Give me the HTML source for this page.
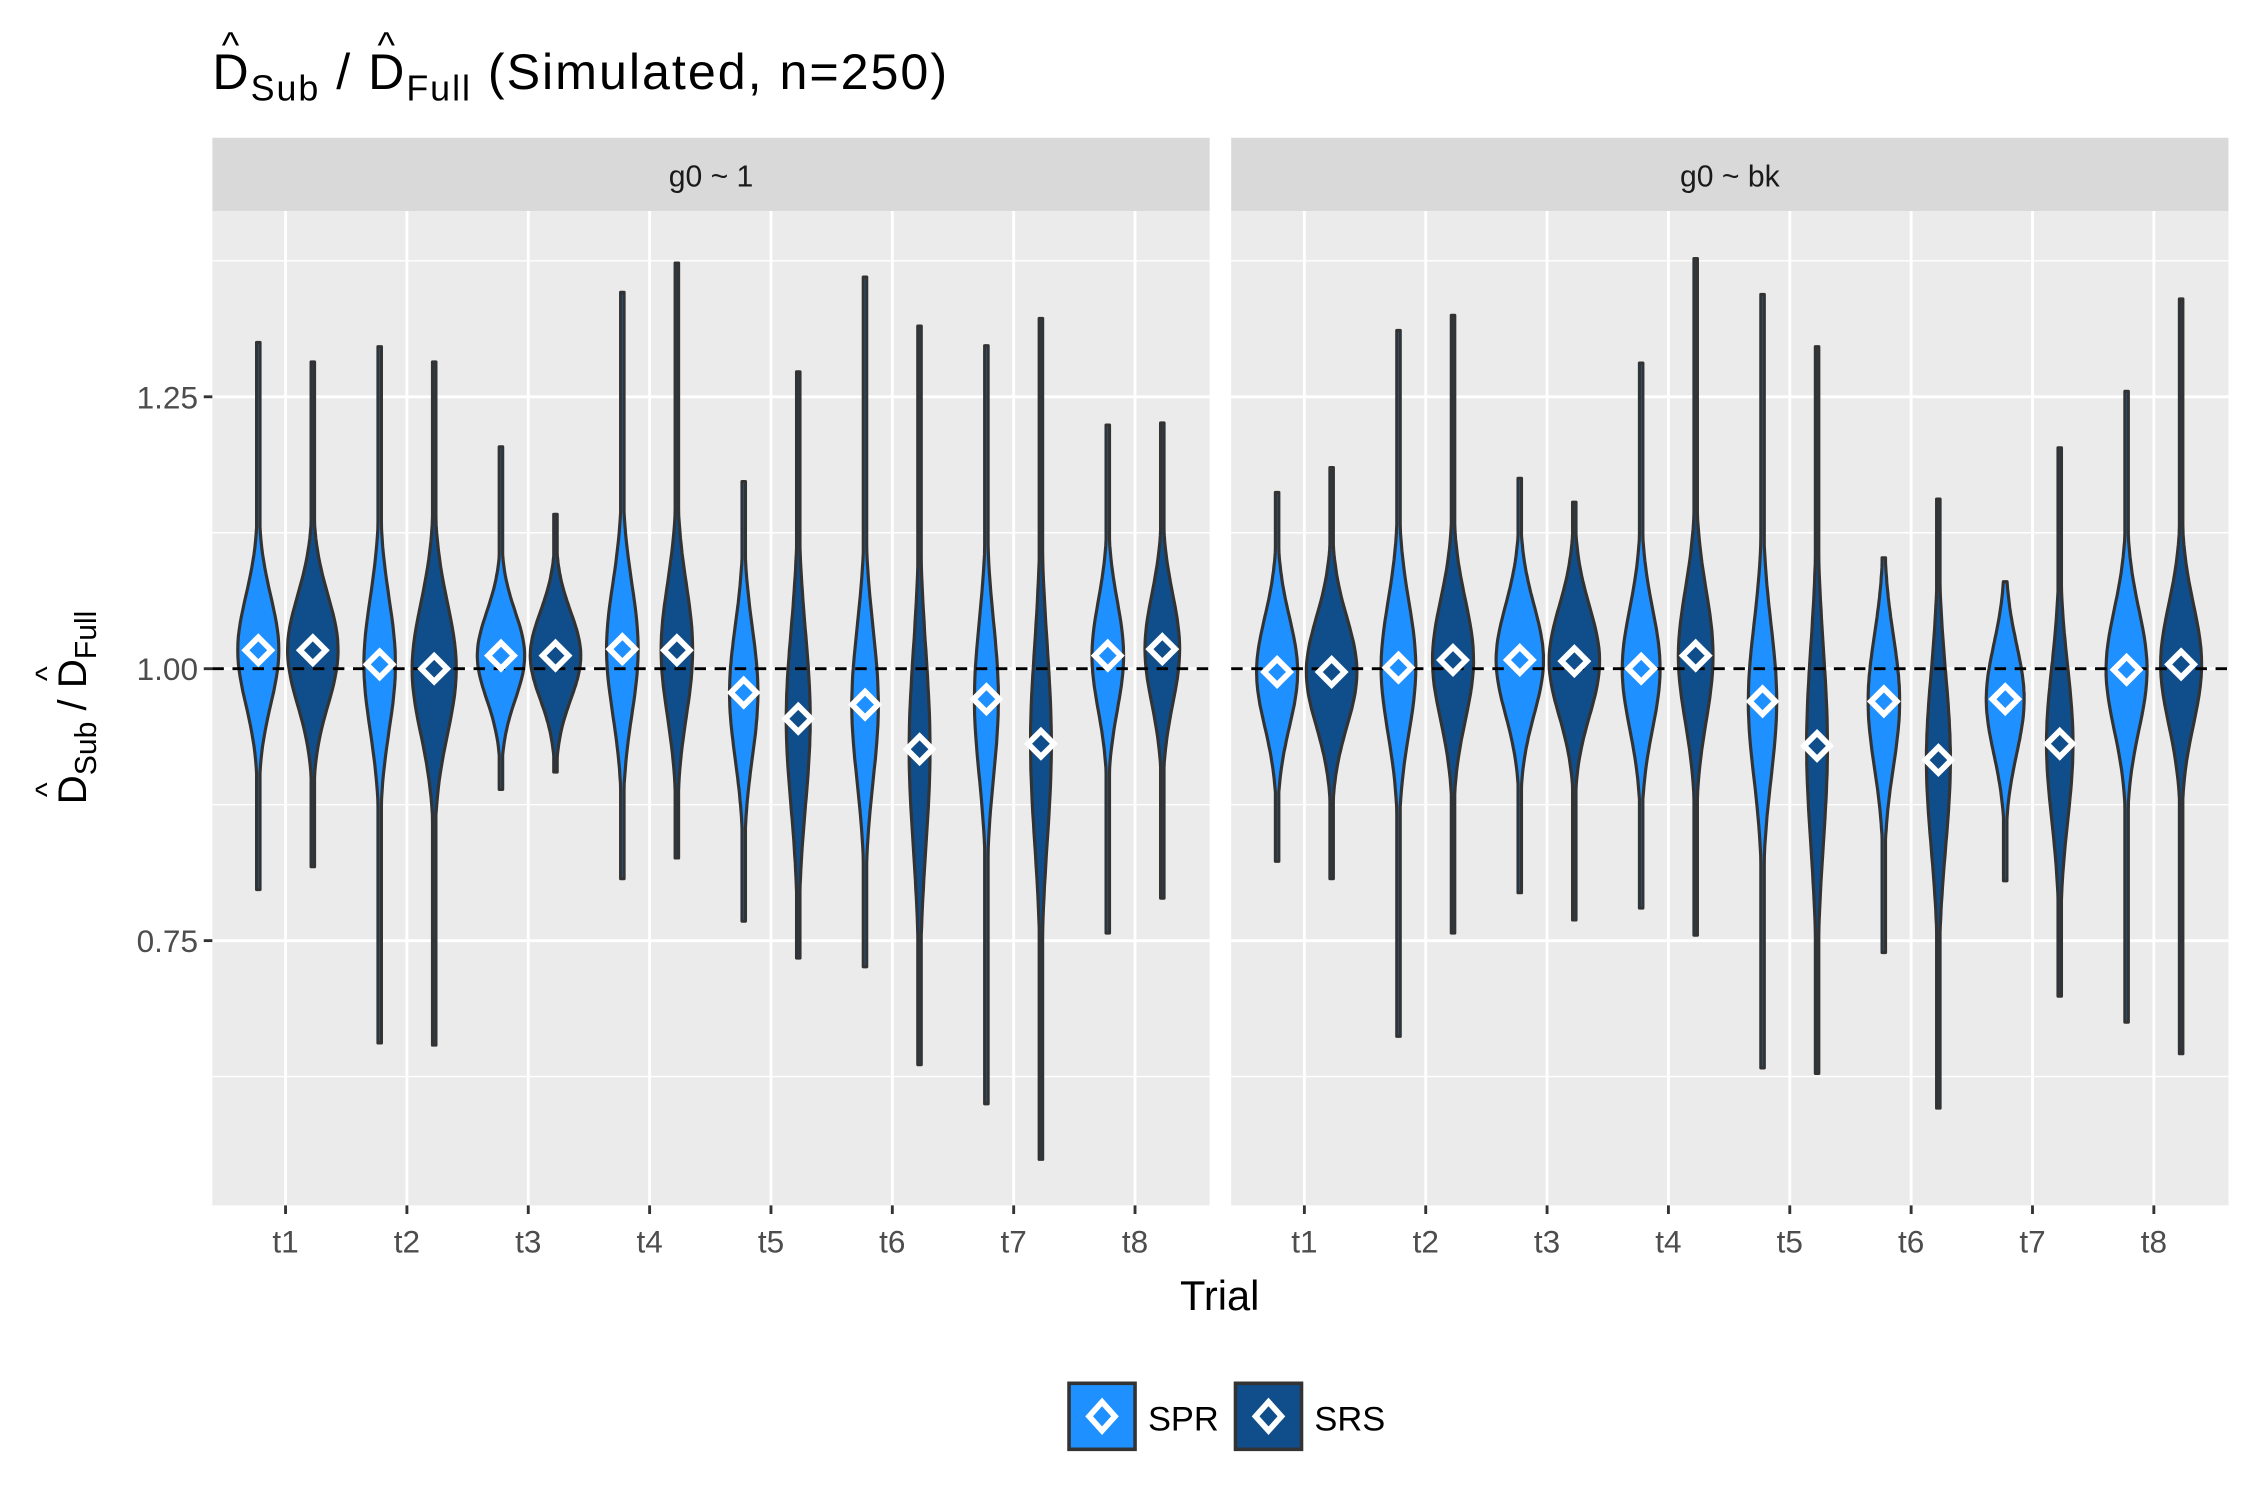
<!DOCTYPE html>
<html><head><meta charset="utf-8"><style>
html,body{margin:0;padding:0;background:#fff;}
svg{display:block;font-family:"Liberation Sans",sans-serif;}
</style></head><body>
<svg id="chart" width="2250" height="1500" viewBox="0 0 1568 1045.3" xmlns="http://www.w3.org/2000/svg">
<g font-size="35" fill="#000">
<text id="ttl" x="148" y="62" textLength="512">D<tspan font-size="25" dy="8">Sub</tspan><tspan dy="-8"> / D</tspan><tspan font-size="25" dy="8">Full</tspan><tspan dy="-8"> (Simulated, n=250)</tspan></text>
<text id="h1" x="150" y="40" font-size="26">^</text><text id="h2" x="256" y="40" font-size="26">^</text>
</g>
<g id="panels"></g>
<text x="850" y="913" font-size="29" text-anchor="middle" fill="#000">Trial</text>
<g transform="translate(60,493) rotate(-90)" font-size="28" fill="#000">
<text id="ytl" x="0" y="0" text-anchor="middle">D<tspan font-size="21" dy="7">Sub</tspan><tspan dy="-7"> / D</tspan><tspan font-size="21" dy="7">Full</tspan></text>
<text id="h3" x="-70" y="-20" font-size="22">^</text><text id="h4" x="16" y="-20" font-size="22">^</text>
</g>
<g>
<g>
<rect x="745" y="964" width="46" height="46" fill="#1E90FF" stroke="#333" stroke-width="2.5"/>
<path d="M768,977 L777,987 L768,997 L759,987 Z" fill="#1E90FF" stroke="#fff" stroke-width="4"/>
<text x="800" y="997" font-size="24" fill="#000">SPR</text>
</g>
<g>
<rect x="861" y="964" width="46" height="46" fill="#104E8B" stroke="#333" stroke-width="2.5"/>
<path d="M884,977 L893,987 L884,997 L875,987 Z" fill="#104E8B" stroke="#fff" stroke-width="4"/>
<text x="916" y="997" font-size="24" fill="#000">SRS</text>
</g>
</g>
</svg>
<script>
const trials = ["t1","t2","t3","t4","t5","t6","t7","t8"];
const facets = ["g0 ~ 1","g0 ~ bk"];
const yTicks = [0.75, 1.00, 1.25];
const yTickLabels = ["0.75","1.00","1.25"];
const yMinor = [0.625, 0.875, 1.125, 1.375];
// per facet, per trial: [SPR, SRS]
const sprMin = [[0.797,0.656,0.889,0.807,0.768,0.726,0.600,0.757],[0.823,0.662,0.794,0.780,0.633,0.739,0.805,0.675]];
const sprMax = [[1.300,1.296,1.204,1.346,1.172,1.360,1.297,1.224],[1.162,1.311,1.175,1.281,1.344,1.102,1.080,1.255]];
const sprMean = [[1.017,1.004,1.012,1.018,0.978,0.967,0.972,1.012],[0.997,1.001,1.008,1.000,0.970,0.970,0.972,0.999]];
const sprDens = [[0.65,0.50,0.75,0.50,0.45,0.42,0.38,0.50],[0.65,0.55,0.75,0.60,0.45,0.50,0.60,0.65]];
const sprSpread = [[0.05,0.06,0.04,0.06,0.06,0.07,0.07,0.05],[0.05,0.06,0.05,0.055,0.07,0.06,0.05,0.055]];
const srsMin = [[0.818,0.654,0.905,0.826,0.734,0.636,0.549,0.789],[0.807,0.757,0.769,0.755,0.628,0.596,0.699,0.646]];
const srsMax = [[1.282,1.282,1.142,1.373,1.273,1.315,1.322,1.226],[1.185,1.325,1.153,1.377,1.296,1.156,1.203,1.340]];
const srsMean = [[1.017,1.000,1.012,1.017,0.954,0.926,0.931,1.018],[0.997,1.008,1.007,1.012,0.929,0.916,0.931,1.004]];
const srsDens = [[0.80,0.70,0.80,0.50,0.38,0.33,0.33,0.55],[0.80,0.65,0.80,0.55,0.33,0.38,0.42,0.65]];
const srsSpread = [[0.05,0.06,0.04,0.06,0.08,0.09,0.09,0.05],[0.05,0.055,0.05,0.06,0.09,0.08,0.07,0.055]];

const NS="http://www.w3.org/2000/svg";
const panelX=[148,858], panelW=695, pTop=147, pBottom=840;
const yScale=v=>466-(v-1)*758;
const xScale=(f,i)=>panelX[f]+51+i*84.57;
function mk(tag,attrs,parent){const e=document.createElementNS(NS,tag);for(const k in attrs)e.setAttribute(k,attrs[k]);parent.appendChild(e);return e;}
const root=document.getElementById('panels');
function violin(g,cx,lo,hi,mean,dens,sd,fill,name){
  const n=80,L=[],R=[];
  for(let k=0;k<=n;k++){const v=hi-(hi-lo)*k/n;const w=Math.max(1.2,dens*22*Math.exp(-0.5*Math.pow((v-mean)/sd,2)));const y=yScale(v);R.push((cx+w).toFixed(1)+","+y.toFixed(1));L.unshift((cx-w).toFixed(1)+","+y.toFixed(1));}
  const p=mk('path',{d:"M"+R.join(" L")+" L"+L.join(" L")+" Z",fill:fill,stroke:"#333","stroke-width":2.2,"stroke-linejoin":"round"},g);
  
  
}
function diamond(g,cx,v,fill,name){
  const y=yScale(v);
  const d=mk('path',{d:`M${cx},${y-9} L${cx+9},${y} L${cx},${y+9} L${cx-9},${y} Z`,fill:fill,stroke:"#fff","stroke-width":4},g);
  
  
}
facets.forEach((fname,f)=>{
  const g=mk('g',{},root);
  
  
  const x0=panelX[f];
  mk('rect',{x:x0,y:pTop,width:panelW,height:pBottom-pTop,fill:"#EBEBEB"},g);
  const strip=mk('rect',{x:x0,y:96,width:panelW,height:51,fill:"#D9D9D9"},g);
  
  
  const st=mk('text',{x:x0+panelW/2,y:130,"font-size":21,"text-anchor":"middle",fill:"#1A1A1A"},g);st.textContent=fname;
  
  
  yMinor.forEach(v=>mk('line',{x1:x0,x2:x0+panelW,y1:yScale(v),y2:yScale(v),stroke:"#fff","stroke-width":1},g));
  yTicks.forEach(v=>mk('line',{x1:x0,x2:x0+panelW,y1:yScale(v),y2:yScale(v),stroke:"#fff","stroke-width":2},g));
  trials.forEach((t,i)=>{const x=xScale(f,i);mk('line',{x1:x,x2:x,y1:pTop,y2:pBottom,stroke:"#fff","stroke-width":2},g);
    mk('line',{x1:x,x2:x,y1:pBottom,y2:pBottom+6,stroke:"#333","stroke-width":2},g);
    const tl=mk('text',{x:x,y:873,"font-size":22,"text-anchor":"middle",fill:"#4D4D4D"},g);tl.textContent=t;
    
    
  });
  if(f===0){yTicks.forEach((v,j)=>{const y=yScale(v);mk('line',{x1:x0-6,x2:x0,y1:y,y2:y,stroke:"#333","stroke-width":2},g);
    const tl=mk('text',{x:x0-10,y:y+8,"font-size":22,"text-anchor":"end",fill:"#4D4D4D"},g);tl.textContent=yTickLabels[j];
    
    });}
  trials.forEach((t,i)=>{const x=xScale(f,i);
    violin(g,x-19,sprMin[f][i],sprMax[f][i],sprMean[f][i],sprDens[f][i],sprSpread[f][i],"#1E90FF",'violin-spr-'+t);
    violin(g,x+19,srsMin[f][i],srsMax[f][i],srsMean[f][i],srsDens[f][i],srsSpread[f][i],"#104E8B",'violin-srs-'+t);
  });
  const ref=mk('line',{x1:x0,x2:x0+panelW,y1:yScale(1),y2:yScale(1),stroke:"#000","stroke-width":2,"stroke-dasharray":"8,6"},g);
  
  
  trials.forEach((t,i)=>{const x=xScale(f,i);
    diamond(g,x-19,sprMean[f][i],"#1E90FF",'mean-spr-'+t);
    diamond(g,x+19,srsMean[f][i],"#104E8B",'mean-srs-'+t);
  });
});
try{
  const ttl=document.getElementById('ttl');
  const a=ttl.getStartPositionOfChar(0).x, a2=ttl.getEndPositionOfChar(0).x;
  const b=ttl.getStartPositionOfChar(7).x, b2=ttl.getEndPositionOfChar(7).x;
  const h1=document.getElementById('h1'), h2=document.getElementById('h2');
  h1.setAttribute('x',(a+a2)/2); h1.setAttribute('text-anchor','middle');
  h2.setAttribute('x',(b+b2)/2); h2.setAttribute('text-anchor','middle');
  const ytl=document.getElementById('ytl');
  const c=ytl.getStartPositionOfChar(0).x, c2=ytl.getEndPositionOfChar(0).x;
  const d=ytl.getStartPositionOfChar(7).x, d2=ytl.getEndPositionOfChar(7).x;
  const h3=document.getElementById('h3'), h4=document.getElementById('h4');
  h3.setAttribute('x',(c+c2)/2); h3.setAttribute('text-anchor','middle');
  h4.setAttribute('x',(d+d2)/2); h4.setAttribute('text-anchor','middle');
}catch(e){}
</script>
</body></html>
